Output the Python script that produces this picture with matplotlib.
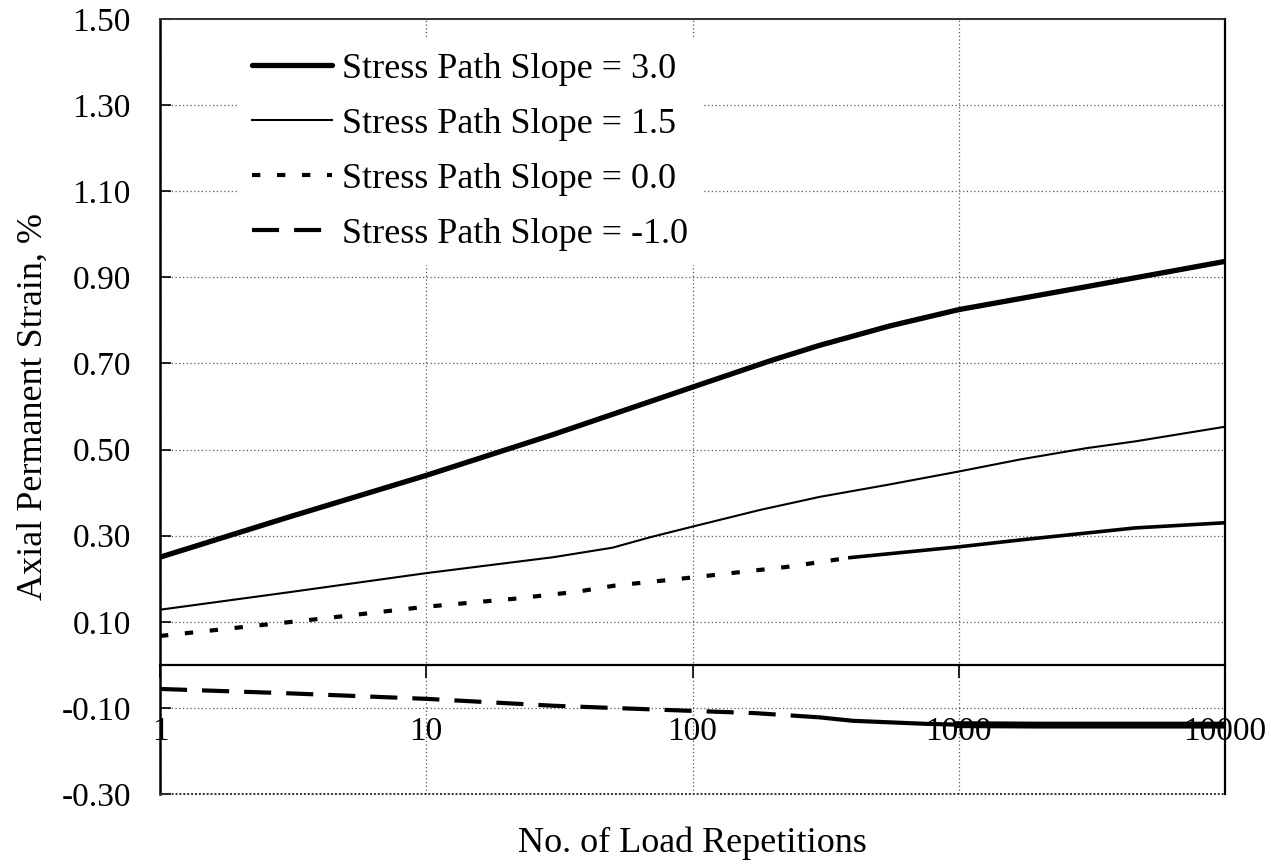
import matplotlib
matplotlib.use("Agg")
import matplotlib.pyplot as plt
import numpy as np
from matplotlib.ticker import NullLocator, FixedLocator

plt.rcParams['font.family'] = ['Liberation Serif', 'DejaVu Serif']

# ---- data ----
n_s30 = [1, 3, 10, 30, 100, 200, 300, 550, 1000, 3000, 10000]
v_s30 = [0.25, 0.342, 0.44, 0.535, 0.645, 0.708, 0.742, 0.787, 0.825, 0.878, 0.937]

n_s15 = [1, 3, 10, 30, 50, 70, 100, 180, 300, 550, 1000, 1700, 3000, 4600, 10000]
v_s15 = [0.128, 0.168, 0.213, 0.25, 0.272, 0.297, 0.321, 0.36, 0.39, 0.419, 0.449, 0.477, 0.503, 0.519, 0.553]

n_s00 = [1, 4, 10, 21, 37, 51, 100, 230, 390, 1000, 1700, 4600, 10000]
v_s00 = [0.067, 0.107, 0.135, 0.153, 0.17, 0.184, 0.203, 0.228, 0.249, 0.274, 0.29, 0.318, 0.33]

n_sm10 = [1, 3, 10, 30, 100, 170, 300, 400, 750, 1000, 2000, 10000]
v_sm10 = [-0.056, -0.066, -0.079, -0.095, -0.107, -0.112, -0.122, -0.13, -0.137, -0.139, -0.14, -0.14]

labels = ['Stress Path Slope = 3.0', 'Stress Path Slope = 1.5',
          'Stress Path Slope = 0.0', 'Stress Path Slope = -1.0']

xticks = [1, 10, 100, 1000, 10000]
xticklabels = ['1', '10', '100', '1000', '10000']
yticks = [-0.30, -0.10, 0.10, 0.30, 0.50, 0.70, 0.90, 1.10, 1.30, 1.50]
yticklabels = ['-0.30', '-0.10', '0.10', '0.30', '0.50', '0.70', '0.90', '1.10', '1.30', '1.50']

xlabel = 'No. of Load Repetitions'
ylabel = 'Axial Permanent Strain, %'

# ---- figure ----
W, H = 1271, 866
fig = plt.figure(figsize=(W / 100, H / 100), dpi=100)
L, R, T, B = 160, 1225, 19, 794
ax = fig.add_axes([L / W, 1 - B / H, (R - L) / W, (B - T) / H])

ax.set_xscale('log')
ax.set_xlim(1, 10000)
ax.set_ylim(-0.3, 1.5)

ax.xaxis.set_major_locator(FixedLocator(xticks))
ax.set_xticklabels(xticklabels)
ax.xaxis.set_minor_locator(NullLocator())
ax.set_yticks(yticks)
ax.set_yticklabels(yticklabels)

ax.grid(True, which='major', linestyle=(0, (1, 2)), color='0.35', linewidth=0.9)

# spines
ax.spines['bottom'].set_position(('data', 0))
ax.spines['bottom'].set_linewidth(1.6)
ax.spines['left'].set_linewidth(1.8)
ax.spines['right'].set_linewidth(1.6)
ax.spines['top'].set_linewidth(1.4)
ax.spines['top'].set_linestyle((0, (1, 1)))
ax.spines['top'].set_color('0.2')
# bottom frame edge at y=-0.3
ax.plot([0, 1], [0, 0], transform=ax.transAxes, color='0.2', lw=1.4,
        ls=(0, (1, 1)), clip_on=False, zorder=3)

ax.tick_params(axis='y', direction='in', length=8, width=1.2, pad=21, labelsize=24)
ax.tick_params(axis='x', direction='out', length=9, width=1.2, pad=28, labelsize=24)

# ---- series ----
n00 = np.array(n_s00); v00 = np.array(v_s00)
nm = np.array(n_sm10); vm = np.array(v_sm10)

h1, = ax.plot(n_s30, v_s30, color='black', lw=3.8, solid_capstyle='round', zorder=4)
h2, = ax.plot(n_s15, v_s15, color='black', lw=1.5, zorder=4)
m = n00 <= 400
h3, = ax.plot(n00[m], v00[m], color='black', lw=3.0, ls=(0, (2, 4)), zorder=4)
m2 = n00 >= 390
ax.plot(n00[m2], v00[m2], color='black', lw=2.6, zorder=4)
mm = nm <= 300
h4, = ax.plot(nm[mm], vm[mm], color='black', lw=3.0, ls=(0, (6.5, 3.6)), zorder=4)
mm2 = (nm >= 300) & (nm <= 1000)
ax.plot(nm[mm2], vm[mm2], color='black', lw=3.0, zorder=4)
mm3 = nm >= 1000
ax.plot(nm[mm3], vm[mm3], color='black', lw=5.0, zorder=4)

leg = ax.legend([h1, h2, h3, h4], labels, loc='upper left',
                bbox_to_anchor=(0.073, 0.975), fontsize=26, frameon=True,
                handlelength=2.2, handletextpad=0.3, labelspacing=0.6,
                borderpad=0.4, borderaxespad=0)
leg.get_frame().set_edgecolor('none')
leg.get_frame().set_facecolor('white')
leg.get_frame().set_alpha(1)
leg.set_zorder(5)

ax.set_xlabel(xlabel, fontsize=26)
ax.xaxis.set_label_coords(0.5, (B - 826) / (B - T))
ax.set_ylabel(ylabel, fontsize=26)
ax.yaxis.set_label_coords((50 - L) / (R - L), 0.5)

fig.savefig('out.png', dpi=100)
